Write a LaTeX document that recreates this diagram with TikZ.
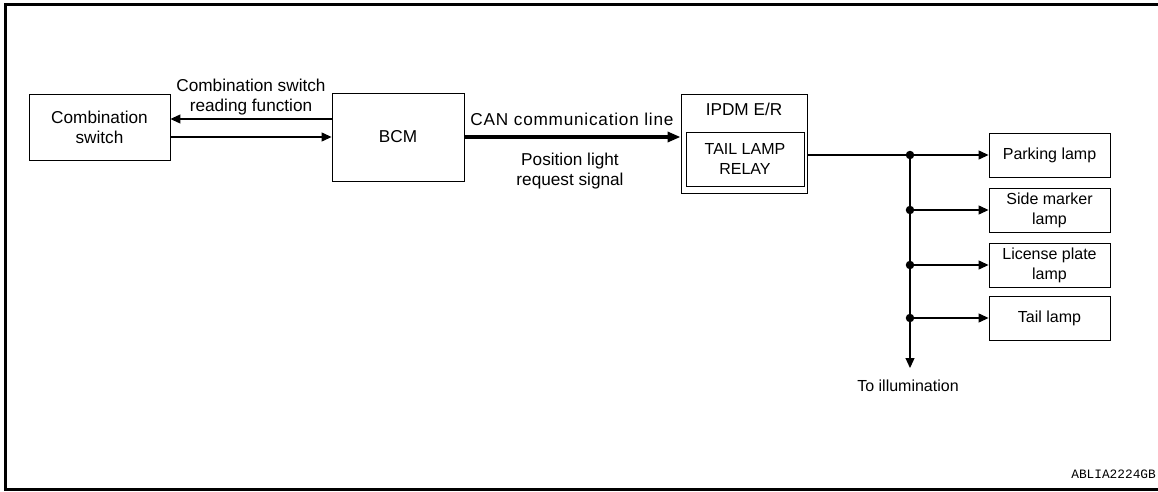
\documentclass[tikz,border=0pt]{standalone}
\usepackage{fontspec}
\setmainfont{Liberation Sans}
\setmonofont{Liberation Mono}
\usetikzlibrary{positioning,arrows.meta}
\tikzset{
  blk/.style={draw,line width=0.9pt,align=center,inner sep=0pt},
  wire/.style={line width=1.2pt},
  conn/.style={-{Triangle[length=10pt,width=9pt]},line width=1.2pt},
  canln/.style={-{Triangle[length=13pt,width=10pt]},line width=3.5pt},
  dot/.style={circle,fill=black,inner sep=0pt,minimum size=8.5pt},
  lbl/.style={align=center,inner sep=0pt},
  frm/.style={line width=3pt},
  small/.style={font=\fontsize{16}{20}\selectfont},
}

\begin{document}
\begin{tikzpicture}[x=1pt,y=-1pt,font=\fontsize{17.2}{20}\selectfont]
  \useasboundingbox (0,0) rectangle (1158,492);
  \clip (0,0) rectangle (1158,492);
  % outer frame, open on the right
  \draw[frm] (1165,4.5) -- (5.5,4.5) -- (5.5,489.5) -- (1165,489.5);
  % units
  \node[blk,minimum width=141pt,minimum height=66pt] (cs) at (99.5,127) {Combination\\switch};
  \node[blk,minimum width=132pt,minimum height=88pt] (bcm) at (398,137) {BCM};
  \node[blk,minimum width=126pt,minimum height=99pt] (ipdm) at (744,143.5) {};
  \node[lbl,anchor=base] (ipdmtxt) at (744,115) {IPDM E/R};
  \node[blk,small,minimum width=118pt,minimum height=54pt] (relay) at (745,159) {TAIL LAMP\\RELAY};
  % BCM <-> combination switch
  \draw[conn] ([yshift=18pt]bcm.west) -- ([yshift=18pt]bcm.west -| cs.east);
  \draw[conn] (bcm.west -| cs.east) -- (bcm.west);
  \node[lbl] (readfn) at (251,97) {Combination switch\\reading function};
  % CAN line
  \draw[canln] (bcm.east) -- (bcm.east -| ipdm.west);
  \node[lbl,anchor=base] (cantxt) at (572,125) {\addfontfeature{LetterSpace=4.5}CAN communication line};
  \node[lbl] (reqsig) at (570,171) {Position light\\request signal};
  % lamps fed from the tail lamp relay
  \foreach \nm/\yy/\txt in {park/155/{Parking lamp},side/210/{Side marker\\lamp},
      lic/265/{License plate\\lamp},tail/318/{Tail lamp}}{
    \node[blk,small,minimum width=121pt,minimum height=44pt] (\nm) at (1049.5,\yy) {\txt};
    \node[dot] (j\nm) at (910,\yy) {};
    \draw[conn] (j\nm.center) -- (\nm);
  }
  \draw[wire] (ipdm.east |- jpark) -- (jpark.center);
  \coordinate (illum) at (910,368);
  \draw[conn] (jpark.center) -- (illum);
  \node[lbl,small,anchor=base] (illumtxt) at (908,391) {To illumination};
  \node[lbl,anchor=base east,font=\ttfamily\fontsize{12.8}{15}\selectfont] (code) at (1156,478) {ABLIA2224GB};
\end{tikzpicture}
\end{document}
